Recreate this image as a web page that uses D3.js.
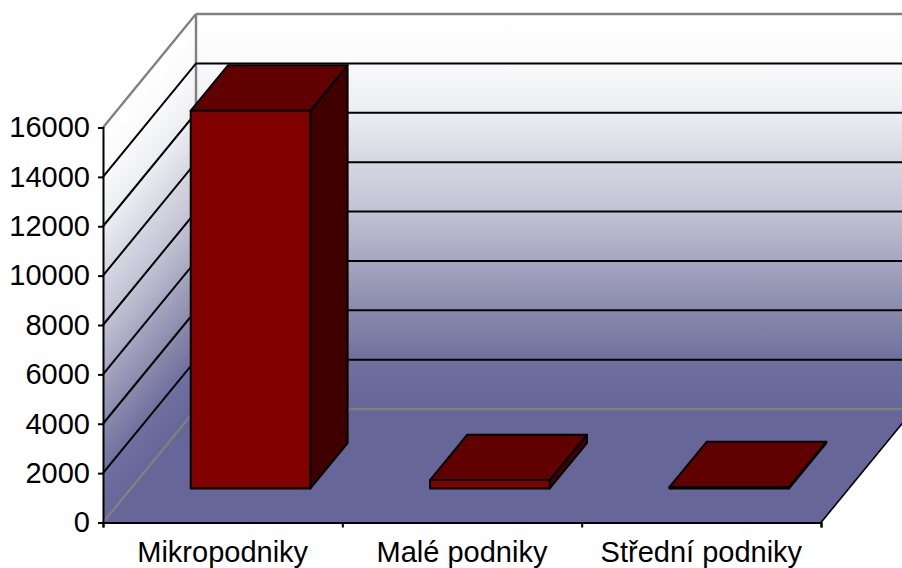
<!DOCTYPE html>
<html>
<head>
<meta charset="utf-8">
<script src="https://cdn.jsdelivr.net/npm/d3@7"></script>
<style>
  html, body { margin: 0; padding: 0; background: #fff; overflow: hidden; }
  svg { display: block; }
  text { font-family: "Liberation Sans", Arial, sans-serif; fill: #000; }
</style>
</head>
<body>
<div id="chart"></div>
<script>
const categories = ['Mikropodniky', 'Malé podniky', 'Střední podniky']
const values = [15300, 340, 50]
const yTicks = [0, 2000, 4000, 6000, 8000, 10000, 12000, 14000, 16000]
const wallColors = ['#ffffff', '#fafafb', '#ecedf1', '#d6d6e2', '#c2c2d4', '#a6a6c1', '#8a8aac', '#70709f', '#666699']

const width = 902
const height = 568

const x = d3.scaleBand()
  .domain(categories)
  .range([103, 821])
  .paddingInner(0.5)
  .paddingOuter(0.25)

const y = d3.scaleLinear()
  .domain([0, 16000])
  .range([522.5, 127.5])

// depth of the 3d box: 0 is the front edge, 1 the back wall
const depthX = d3.scaleLinear().domain([0, 1]).range([0, 93])
const depthY = d3.scaleLinear().domain([0, 1]).range([0, -113.5])

const project = (px, value, z) => [px + depthX(z), y(value) + depthY(z)]
const poly = pts => pts.join(' ')

const svg = d3.select('#chart')
  .append('svg')
  .attr('width', width)
  .attr('height', height)

const defs = svg.append('defs')
const backLeft = project(x.range()[0], 0, 1)[0]
const wallTop = project(0, 16000, 1)[1]
const wallBottom = project(0, 0, 1)[1]
const slope = depthY(1) / depthX(1)

function wallGradient(id, transform) {
  const g = defs.append('linearGradient')
    .attr('id', id)
    .attr('gradientUnits', 'userSpaceOnUse')
    .attr('x1', 0).attr('x2', 0)
    .attr('y1', wallTop).attr('y2', wallBottom)
  if (transform) g.attr('gradientTransform', transform)
  wallColors.forEach((c, i) => {
    g.append('stop').attr('offset', i / (wallColors.length - 1)).attr('stop-color', c)
  })
}
wallGradient('backWall')
wallGradient('sideWall', `matrix(1,${slope},0,1,0,${-slope * backLeft})`)

const [xMin, xMax] = x.range()

// walls and floor
svg.append('polygon')
  .attr('points', poly([project(xMin, 0, 1), project(xMax, 0, 1), project(xMax, 16000, 1), project(xMin, 16000, 1)]))
  .attr('fill', 'url(#backWall)')

svg.append('polygon')
  .attr('points', poly([project(xMin, 0, 0), project(xMin, 0, 1), project(xMin, 16000, 1), project(xMin, 16000, 0)]))
  .attr('fill', 'url(#sideWall)')

svg.append('polygon')
  .attr('points', poly([project(xMin, 0, 0), project(xMax, 0, 0), project(xMax, 0, 1), project(xMin, 0, 1)]))
  .attr('fill', '#666699')

// grey wall edges
const edges = [
  [project(xMin, 16000, 0), project(xMin, 16000, 1)],
  [project(xMin, 16000, 1), project(xMax, 16000, 1)],
  [project(xMin, 16000, 1), project(xMin, 0, 1)],
  [project(xMin, 0, 1), project(xMax, 0, 1)],
  [project(xMin, 0, 0), project(xMin, 0, 1)]
]
svg.selectAll('.edge')
  .data(edges)
  .enter()
  .append('line')
  .attr('class', 'edge')
  .attr('x1', d => d[0][0])
  .attr('y1', d => d[0][1])
  .attr('x2', d => d[1][0])
  .attr('y2', d => d[1][1])
  .attr('stroke', '#808080')
  .attr('stroke-width', 2.4)

// gridlines, side wall then back wall
const grid = yTicks.filter(t => t > 0 && t < 16000)
svg.selectAll('.grid')
  .data(grid)
  .enter()
  .append('polyline')
  .attr('class', 'grid')
  .attr('points', d => poly([project(xMin, d, 0), project(xMin, d, 1), project(xMax, d, 1)]))
  .attr('fill', 'none')
  .attr('stroke', '#000')
  .attr('stroke-width', 2)

// front-right floor edge
svg.append('line')
  .attr('x1', project(xMax, 0, 0)[0])
  .attr('y1', project(xMax, 0, 0)[1])
  .attr('x2', project(xMax, 0, 1)[0])
  .attr('y2', project(xMax, 0, 1)[1])
  .attr('stroke', '#000')
  .attr('stroke-width', 1.6)

// bars
const zFront = 0.3
const zBack = 0.7
const bars = svg.selectAll('.bar')
  .data(categories.map((c, i) => ({ c, v: values[i] })))
  .enter()
  .append('g')
  .attr('class', 'bar')
  .attr('stroke', '#000')
  .attr('stroke-width', 2)
  .attr('stroke-linejoin', 'round')

const left = d => x(d.c)
const right = d => x(d.c) + x.bandwidth()

bars.append('polygon')
  .attr('fill', '#400000')
  .attr('points', d => poly([
    project(right(d), 0, zFront), project(right(d), 0, zBack),
    project(right(d), d.v, zBack), project(right(d), d.v, zFront)
  ]))

bars.append('polygon')
  .attr('fill', '#600000')
  .attr('points', d => poly([
    project(left(d), d.v, zFront), project(right(d), d.v, zFront),
    project(right(d), d.v, zBack), project(left(d), d.v, zBack)
  ]))

bars.append('polygon')
  .attr('fill', '#800000')
  .attr('points', d => poly([
    project(left(d), 0, zFront), project(right(d), 0, zFront),
    project(right(d), d.v, zFront), project(left(d), d.v, zFront)
  ]))

// axes
const yAxis = d3.axisLeft(y)
  .tickValues(yTicks)
  .tickFormat(d3.format('d'))
  .tickSize(5)
  .tickPadding(8)

const yG = svg.append('g')
  .attr('transform', `translate(${xMin},0)`)
  .call(yAxis)
yG.attr('font-family', null)
yG.selectAll('text').attr('font-size', 29)
yG.selectAll('line, path').attr('stroke', '#000').attr('stroke-width', 2)

// tick marks sit between the categories, labels in the middle of them
const xEdges = d3.scaleLinear().domain([0, categories.length]).range([xMin, xMax])
const xTickG = svg.append('g')
  .attr('transform', `translate(0,${y(0)})`)
  .call(d3.axisBottom(xEdges).ticks(categories.length).tickFormat('').tickSize(5).tickSizeOuter(5))
xTickG.selectAll('line, path').attr('stroke', '#000').attr('stroke-width', 2)

const xLabelG = svg.append('g')
  .attr('transform', `translate(0,${y(0)})`)
  .call(d3.axisBottom(x).tickSize(0).tickPadding(19))
xLabelG.attr('font-family', null)
xLabelG.select('.domain').remove()
xLabelG.selectAll('text').attr('font-size', 29)
</script>
</body>
</html>
